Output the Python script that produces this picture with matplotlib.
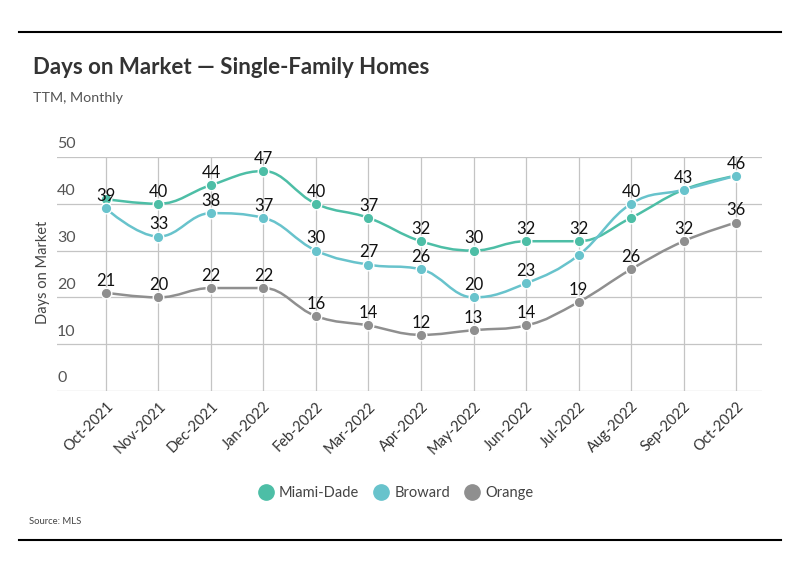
import matplotlib
matplotlib.use("Agg")
import matplotlib.pyplot as plt
from matplotlib.path import Path
from matplotlib.patches import PathPatch
from matplotlib.lines import Line2D
import numpy as np

months = ["Oct-2021", "Nov-2021", "Dec-2021", "Jan-2022", "Feb-2022", "Mar-2022",
          "Apr-2022", "May-2022", "Jun-2022", "Jul-2022", "Aug-2022", "Sep-2022", "Oct-2022"]
miami_dade = [41, 40, 44, 47, 40, 37, 32, 30, 32, 32, 37, 43, 46]
broward = [39, 33, 38, 37, 30, 27, 26, 20, 23, 29, 40, 43, 46]
orange = [21, 20, 22, 22, 16, 14, 12, 13, 14, 19, 26, 32, 36]
y_ticks = [0, 10, 20, 30, 40, 50]

# which data labels are shown (others hidden by overlap in the original)
show_md = [False, True, True, True, True, True, True, True, True, True, False, False, False]
show_br = [True, True, True, True, True, True, True, True, True, False, True, True, True]
show_or = [True] * 13

C_MD = "#4dbea6"
C_BR = "#68c3cc"
C_OR = "#8f8f8f"

FONT = ["Lato", "DejaVu Sans"]
plt.rcParams["font.family"] = FONT


def spline_path(xs, ys, smoothing=1.5):
    denom = smoothing + 1
    n = len(xs)
    lc = [None] * n
    rc = [None] * n
    for i in range(n):
        px, py = xs[i], ys[i]
        if 0 < i < n - 1:
            lx, ly = xs[i - 1], ys[i - 1]
            nx, ny = xs[i + 1], ys[i + 1]
            lcx = (smoothing * px + lx) / denom
            lcy = (smoothing * py + ly) / denom
            rcx = (smoothing * px + nx) / denom
            rcy = (smoothing * py + ny) / denom
            corr = 0
            if rcx != lcx:
                corr = (rcy - lcy) * (rcx - px) / (rcx - lcx) + py - rcy
            lcy += corr
            rcy += corr
            if lcy > ly and lcy > py:
                lcy = max(ly, py)
                rcy = 2 * py - lcy
            elif lcy < ly and lcy < py:
                lcy = min(ly, py)
                rcy = 2 * py - lcy
            if rcy > ny and rcy > py:
                rcy = max(ny, py)
                lcy = 2 * py - rcy
            elif rcy < ny and rcy < py:
                rcy = min(ny, py)
                lcy = 2 * py - rcy
            lc[i] = (lcx, lcy)
            rc[i] = (rcx, rcy)
        else:
            lc[i] = (px, py)
            rc[i] = (px, py)
    verts = [(xs[0], ys[0])]
    codes = [Path.MOVETO]
    for i in range(1, n):
        verts += [rc[i - 1], lc[i], (xs[i], ys[i])]
        codes += [Path.CURVE4] * 3
    return Path(verts, codes)


fig = plt.figure(figsize=(7.99, 5.75), dpi=100)
W, H = 799, 575
ax = fig.add_axes([57 / W, 1 - 391 / H, (762 - 57) / W, (391 - 157) / H])

x = np.arange(len(months))
ax.set_xlim(-0.933, 12.495)
ax.set_ylim(0, 50)
for s in ax.spines.values():
    s.set_visible(False)

for v in y_ticks:
    ax.axhline(v, color="#c4c4c4", lw=0.9, zorder=1)
    ax.text(0, v + 1.2, str(v), transform=ax.get_yaxis_transform(), ha="left", va="bottom",
            fontsize=11.5, color="#555555")
for xi in x:
    ax.plot([xi, xi], [0, 50], color="#c4c4c4", lw=0.9, zorder=1)

ax.set_yticks([])
ax.set_xticks(x)
ax.set_xticklabels(months, rotation=45, ha="right", va="top", rotation_mode="anchor",
                   fontsize=10.5, color="#333333")
ax.tick_params(axis="x", length=0, pad=6)

series = [("Miami-Dade", miami_dade, C_MD, show_md, 3),
          ("Broward", broward, C_BR, show_br, 4),
          ("Orange", orange, C_OR, show_or, 5)]
for name, vals, col, show, z in series:
    p = spline_path(list(x.astype(float)), [float(v) for v in vals])
    ax.add_patch(PathPatch(p, facecolor="none", edgecolor=col, lw=1.8, zorder=z))
    ax.scatter(x, vals, s=58, color=col, edgecolor="white", linewidth=1.0, zorder=z + 0.5)
for name, vals, col, show, z in series:
    for xi, v, sh in zip(x, vals, show):
        if sh:
            ax.annotate(str(v), (xi, v), xytext=(0, 3.0), textcoords="offset points",
                        ha="center", va="bottom", fontsize=12, color="#111111", zorder=10)

fig.text(43 / W, 1 - 272 / H, "Days on Market", rotation=90, ha="center", va="center",
         fontsize=10.5, color="#444444")

fig.text(33 / W, 1 - 68 / H, "Days on Market \u2014 Single-Family Homes", ha="left", va="center",
         fontsize=16, fontweight="bold", color="#333333")
fig.text(33 / W, 1 - 98 / H, "TTM, Monthly", ha="left", va="center", fontsize=10.3, color="#555555")
fig.text(29 / W, 1 - 521 / H, "Source: MLS", ha="left", va="center", fontsize=6.8, color="#444444")

fig.add_artist(Line2D([19 / W, 781 / W], [1 - 32 / H, 1 - 32 / H], color="black", lw=1.5))
fig.add_artist(Line2D([19 / W, 781 / W], [1 - 540 / H, 1 - 540 / H], color="black", lw=1.5))

handles = [Line2D([], [], marker="o", ls="none", markersize=11, markerfacecolor=c,
                  markeredgecolor=c) for c in (C_MD, C_BR, C_OR)]
fig.legend(handles, ["Miami-Dade", "Broward", "Orange"], loc="center",
           bbox_to_anchor=(395 / W, 1 - 493 / H), ncol=3, frameon=False, fontsize=10.5,
           handletextpad=0.3, columnspacing=0.9, handlelength=1.2, labelcolor="#444444")

fig.savefig("out.png", dpi=100)
